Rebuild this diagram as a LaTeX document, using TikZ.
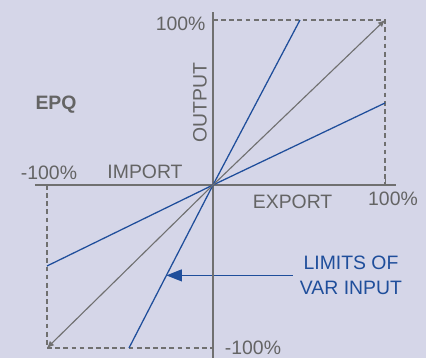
\documentclass[tikz,border=0pt]{standalone}
\usepackage{fontspec}
\setmainfont{Liberation Sans}
\usetikzlibrary{arrows.meta}
\definecolor{panelbg}{HTML}{D5D6E8}
\definecolor{axisgray}{HTML}{707070}
\definecolor{textgray}{HTML}{646464}
\definecolor{limitblue}{HTML}{1F4E9B}
\begin{document}
\begin{tikzpicture}[
        axis/.style = {draw = axisgray, line width = 2pt},
        guide/.style = {draw = axisgray, line width = 0.9pt, dash pattern = on 3.4pt off 2.4pt},
        ratio/.style = {draw = axisgray, line width = 0.8pt, -{Latex[length = 5pt, width = 4.5pt]}},
        limit/.style = {draw = limitblue, line width = 0.9pt},
        lbl/.style = {text = textgray, inner sep = 0pt, font = \fontsize{13.8}{16}\selectfont}
    ]
        \fill[panelbg] (-5.325,-4.325) rectangle (5.325,4.625);
        \useasboundingbox (-5.325,-4.325) rectangle (5.325,4.625);
        \coordinate (O) at (0,0);
        \coordinate (ne) at (4.3,4.125);
        \coordinate (sw) at (-4.15,-4.075);
        \begin{scope}[every node/.append style = {lbl}]
            \node (ymax) at (-0.81,4.025) {100\%};
            \node[rotate = 90] (output) at (-0.325,2.05) {OUTPUT};
            \node[font = \fontsize{13.8}{16}\selectfont\bfseries] (epq) at (-3.925,2.0) {EPQ};
            \node (xmin) at (-4.1,0.3) {-100\%};
            \node (import) at (-1.7,0.34) {IMPORT};
            \node (export) at (1.99,-0.41) {EXPORT};
            \node (xmax) at (4.5,-0.35) {100\%};
            \node (ymin) at (1.0,-4.075) {-100\%};
            \node[text = limitblue, align = center, inner xsep = 0.175cm, font = \fontsize{13.8}{17.8}\selectfont] (limits) at (3.45,-2.26) {LIMITS OF\\VAR INPUT};
        \end{scope}
        \draw[guide] (0,4.125) -- (ne) -- (4.3,0);
        \draw[guide] (-4.15,0) -- (sw) -- (0,-4.075);
        \path (O) -- (-2.1,-4.075) coordinate[pos = 0.5546] (hit);
        \draw[limitblue, line width = 0.9pt, -{Triangle[length = 11pt, width = 8.5pt]}] (limits.west) -- (limits.west -| hit);
        \draw[axis] (-4.45,0) -- (4.575,0);
        \draw[axis] (0,-4.4) -- (0,4.325);
        \draw[axisgray, line width = 0.6pt] (4.3,0) -- (4.3,0.14);
        \foreach \ex/\ey [count = \i] in {2.175/4.125, 4.3/2.05, -4.15/-2.025, -2.1/-4.075}
            \draw[limit] (O) -- (\ex,\ey) coordinate (lim\i);
        \draw[ratio] (O) -- (ne);
        \draw[ratio] (O) -- (sw);
\end{tikzpicture}
\end{document}
